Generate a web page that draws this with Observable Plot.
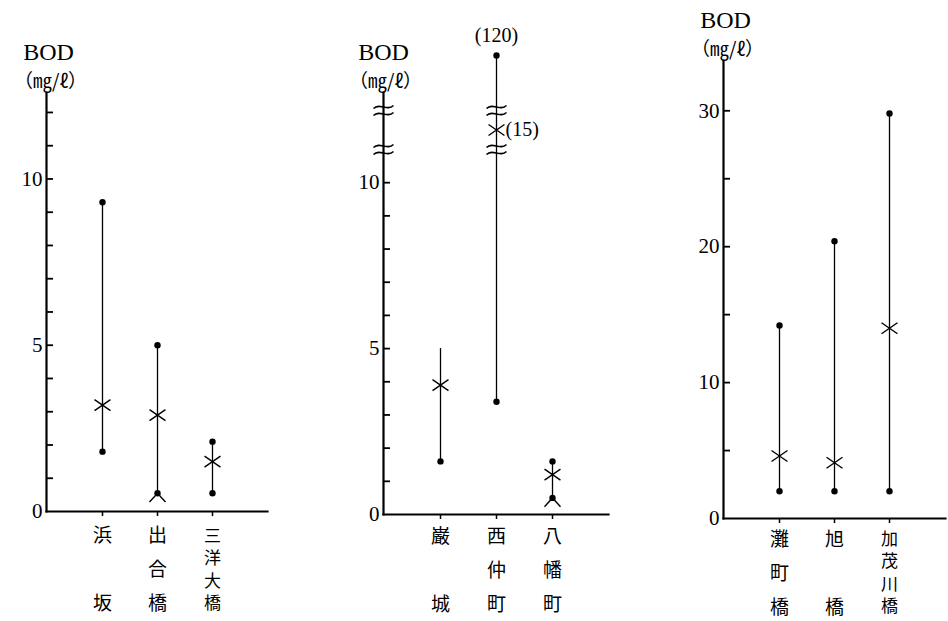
<!DOCTYPE html>
<html><head><meta charset="utf-8">
<script src="https://cdn.jsdelivr.net/npm/d3@7"></script>
<script src="https://cdn.jsdelivr.net/npm/@observablehq/plot@0.6"></script>
<style>
body{margin:0;background:#fff}
#chart{display:flex;width:948px;height:621px;overflow:hidden}
#chart svg{display:block;flex:none;font-family:'Liberation Serif','Times New Roman',serif}
</style>
</head><body><div id="chart"></div>
<script>
// ---------- Data ----------
const yLabel = "BOD";
const yUnit = "（㎎/ℓ）";

// Panel 1
const sites1 = ["浜坂", "出合橋", "三洋大橋"];
const max1 = [9.3, 5.0, 2.1];
const mean1 = [3.2, 2.9, 1.5];
const min1 = [1.8, 0.55, 0.55];
const maxDot1 = [true, true, true];
const belowLimit1 = [false, true, false];
const tickMinor1 = [1, 2, 3, 4, 5, 6, 7, 8, 9, 10, 11, 12];
const tickLabels1 = [0, 5, 10];

// Panel 2 (broken axis)
const sites2 = ["巌城", "西仲町", "八幡町"];
const max2 = [5.0, 120, 1.6];
const mean2 = [3.9, 15, 1.2];
const min2 = [1.6, 3.4, 0.5];
const maxDot2 = [false, true, true];
const belowLimit2 = [false, false, true];
const tickMinor2 = [1, 2, 3, 4, 5, 6, 7, 8, 9, 10];
const tickLabels2 = [0, 5, 10];
const axisBreaks2 = [11, 19];

// Panel 3
const sites3 = ["灘町橋", "旭橋", "加茂川橋"];
const max3 = [14.2, 20.4, 29.8];
const mean3 = [4.6, 4.1, 14.0];
const min3 = [2.0, 2.0, 2.0];
const maxDot3 = [true, true, true];
const belowLimit3 = [false, false, false];
const tickMinor3 = [5, 10, 15, 20, 25, 30];
const tickLabels3 = [0, 10, 20, 30];

// ---------- Symbols ----------
const crossWide = {draw(ctx, size) {
  const r = Math.sqrt(size / Math.PI); const w = r * 1.45, h = r;
  ctx.moveTo(-w, -h); ctx.lineTo(w, h); ctx.moveTo(w, -h); ctx.lineTo(-w, h);
}};
const wedge = {draw(ctx, size) {
  const r = Math.sqrt(size / Math.PI);
  ctx.moveTo(-r, r * 1.1); ctx.lineTo(0, 0); ctx.lineTo(r, r * 1.1);
}};
const breakMark = {draw(ctx, size) {
  const r = Math.sqrt(size / Math.PI);
  for (const o of [-r * 0.35, r * 0.35]) {
    ctx.moveTo(-r, o + 1.5);
    ctx.bezierCurveTo(-r * 0.35, o - 5, r * 0.35, o + 5, r, o - 1.5);
  }
}};

const SERIF = "'Liberation Serif', 'Times New Roman', serif";
const CJK = "'Noto Sans CJK JP', sans-serif";

function stackLabel(s) {
  const c = [...s];
  return c.length === 2 ? c[0] + "\n\n" + c[1] : c.join("\n");
}

function panel(cfg) {
  const rows = cfg.sites.map((site, i) => ({
    site, max: cfg.max[i], mean: cfg.mean[i], min: cfg.min[i],
    maxDot: cfg.maxDot[i], below: cfg.below[i]
  }));
  const breaks = cfg.breaks || [];
  const limit = breaks.length ? breaks[0] : Infinity;
  const breakOnLines = [];
  for (const r of rows) if (r.max > limit) for (const b of breaks) breakOnLines.push({site: r.site, y: b});
  const shortLabels = cfg.sites.filter(s => [...s].length <= 3);
  const longLabels = cfg.sites.filter(s => [...s].length > 3);
  const frameW = cfg.width - cfg.ml - cfg.mr;

  return Plot.plot({
    width: cfg.width, height: 621,
    marginLeft: cfg.ml, marginRight: cfg.mr, marginTop: cfg.mt, marginBottom: cfg.mb,
    style: {fontFamily: SERIF, fontSize: "20px", background: "white", color: "black", overflow: "visible"},
    x: {type: "point", domain: cfg.sites, padding: 1},
    y: cfg.y,
    marks: [
      Plot.frame({anchor: "left", strokeWidth: 2.2}),
      Plot.frame({anchor: "bottom", strokeWidth: 2.2}),
      Plot.ruleY(cfg.tickMinor, {y: d => d, insetRight: frameW - 7, strokeWidth: 1.8}),
      Plot.axisY({ticks: cfg.tickLabels, tickSize: 0, tickPadding: 4, label: null, fontSize: 21, fontFamily: SERIF}),
      Plot.axisX({tickSize: 5, tickFormat: () => "", label: null, strokeWidth: 1.5}),
      Plot.ruleX(rows, {x: "site", y1: "min", y2: "max", strokeWidth: 1.3}),
      Plot.dot(rows.filter(d => d.maxDot), {x: "site", y: "max", r: 3.2, fill: "black"}),
      Plot.dot(rows, {x: "site", y: "min", r: 3.2, fill: "black"}),
      Plot.dot(rows, {x: "site", y: "mean", symbol: crossWide, r: 5.5, stroke: "black", strokeWidth: 1.4}),
      Plot.dot(rows.filter(d => d.below), {x: "site", y: "min", symbol: wedge, r: 8, stroke: "black", strokeWidth: 1.4}),
      Plot.dot(breaks, {y: d => d, frameAnchor: "left", symbol: breakMark, r: 10, stroke: "black", strokeWidth: 1.5}),
      Plot.dot(breakOnLines, {x: "site", y: "y", symbol: breakMark, r: 10, stroke: "black", strokeWidth: 1.5}),
      Plot.text(rows.filter(d => d.max > limit), {x: "site", y: "max", text: d => `(${d.max})`, dy: -20, fontSize: 20, fontFamily: SERIF}),
      Plot.text(rows.filter(d => d.mean > limit), {x: "site", y: "mean", text: d => `(${d.mean})`, dx: 9, textAnchor: "start", fontSize: 20, fontFamily: SERIF}),
      Plot.text([yLabel], {text: d => d, frameAnchor: "top-left", textAnchor: "middle", dx: cfg.ldx, dy: -33, lineAnchor: "bottom", fontSize: 24, fontFamily: SERIF, letterSpacing: "1.5px"}),
      Plot.text([yUnit], {text: d => d, frameAnchor: "top-left", textAnchor: "middle", dx: cfg.ldx + 2, dy: -5, lineAnchor: "bottom", fontSize: 19, fontFamily: CJK, letterSpacing: "4px"}),
      Plot.text(shortLabels, {x: d => d, text: stackLabel, frameAnchor: "bottom", lineAnchor: "top", dy: cfg.shortDy, lineHeight: 1.8, fontSize: 19, fontFamily: CJK}),
      Plot.text(longLabels, {x: d => d, text: stackLabel, frameAnchor: "bottom", lineAnchor: "top", dy: cfg.longDy, lineHeight: 1.33, fontSize: 17, fontFamily: CJK})
    ]
  });
}

const chart = document.getElementById("chart");
chart.append(panel({
  width: 316, ml: 46, mr: 49, mt: 92, mb: 110, ldx: 2, shortDy: 6, longDy: 14,
  sites: sites1, max: max1, mean: mean1, min: min1, maxDot: maxDot1, below: belowLimit1,
  tickMinor: tickMinor1, tickLabels: tickLabels1,
  y: {domain: [0, 12.6]}
}));
chart.append(panel({
  width: 316, ml: 67, mr: 24, mt: 92, mb: 107, ldx: 0, shortDy: 4, longDy: 12,
  sites: sites2, max: max2, mean: mean2, min: min2, maxDot: maxDot2, below: belowLimit2,
  tickMinor: tickMinor2, tickLabels: tickLabels2, breaks: axisBreaks2,
  y: {type: "linear", domain: [0, 11, 19, 120], range: [514, 149, 110, 55]}
}));
chart.append(panel({
  width: 316, ml: 91, mr: 3, mt: 60, mb: 103, ldx: 2, shortDy: 3, longDy: 10,
  sites: sites3, max: max3, mean: mean3, min: min3, maxDot: maxDot3, below: belowLimit3,
  tickMinor: tickMinor3, tickLabels: tickLabels3,
  y: {domain: [0, 33.7]}
}));
</script>
</body></html>
